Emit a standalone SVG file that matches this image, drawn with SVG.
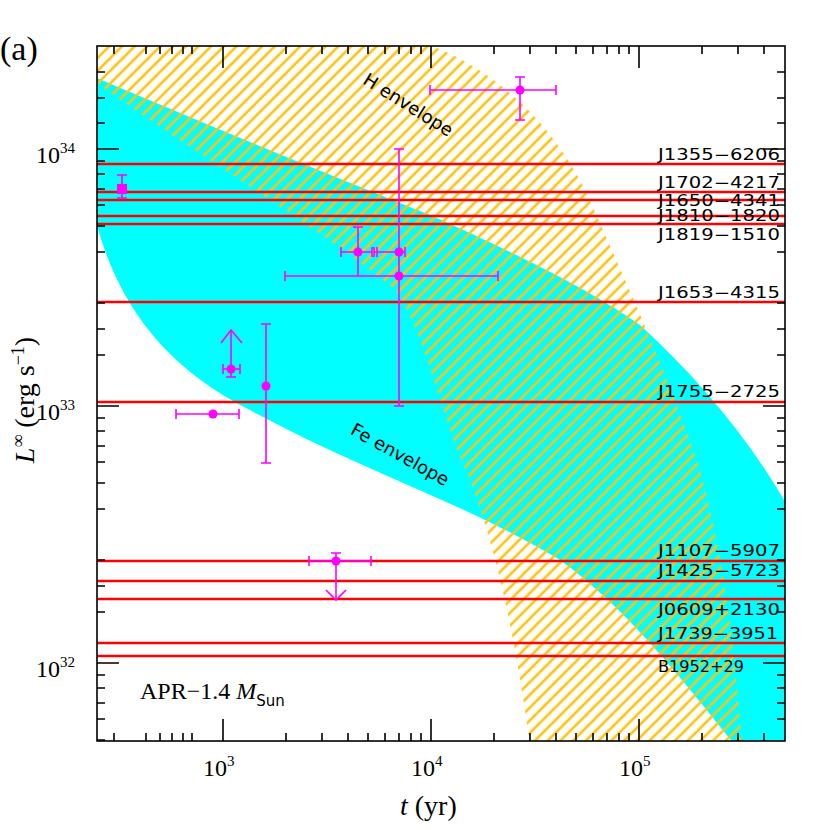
<svg xmlns="http://www.w3.org/2000/svg" width="830" height="830" viewBox="0 0 830 830">
<style>
.red{stroke:#ff0000;stroke-width:2.5}
.lbl{font-family:"DejaVu Sans",sans-serif;font-size:15px;text-anchor:end;fill:#000}
.tick{font-family:"Liberation Serif",serif;font-size:24px;fill:#000}
.m{stroke:#ff00ff;stroke-width:1.6;fill:none}
.dot{fill:#ff00ff}
.ax{stroke:#000;stroke-width:1.6;fill:none}
</style>
<defs>
<pattern id="h" width="9" height="9" patternUnits="userSpaceOnUse" patternTransform="rotate(45)">
<line x1="2" y1="0" x2="2" y2="9" stroke="#ffc20e" stroke-width="2.6"/>
</pattern>
<clipPath id="c"><rect x="97" y="46" width="688" height="695"/></clipPath>
</defs>
<rect width="830" height="830" fill="#fff"/>
<g id="regions" clip-path="url(#c)">
<path id="fe" fill="#00ffff" d="M97,78 C200,122 330,175 430,215 C520,255 590,290 640,325 C700,380 750,440 790,510 L790,745 L735,745 C690,690 630,610 560,560 C470,505 360,470 250,410 C170,370 120,310 97,225 Z"/>
<path id="henv" fill="url(#h)" d="M92,40 L415,40 C480,60 545,110 585,190 C630,290 670,380 700,470 C725,560 736,660 742,745 L530,745 C517,650 500,560 470,480 C438,410 425,330 395,290 C330,235 220,170 92,80 Z"/>
</g>
<g id="lines">
<line class="red" x1="97" y1="164" x2="785" y2="164"/>
<line class="red" x1="97" y1="192" x2="785" y2="192"/>
<line class="red" x1="97" y1="200" x2="785" y2="200"/>
<line class="red" x1="97" y1="216" x2="785" y2="216"/>
<line class="red" x1="97" y1="224" x2="785" y2="224"/>
<line class="red" x1="97" y1="302" x2="785" y2="302"/>
<line class="red" x1="97" y1="402" x2="785" y2="402"/>
<line class="red" x1="97" y1="561" x2="785" y2="561"/>
<line class="red" x1="97" y1="581" x2="785" y2="581"/>
<line class="red" x1="97" y1="599" x2="785" y2="599"/>
<line class="red" x1="97" y1="643" x2="785" y2="643"/>
<line class="red" x1="97" y1="656" x2="785" y2="656"/>
</g>
<g id="labels">
<text class="lbl" x="780" y="160" textLength="122" lengthAdjust="spacingAndGlyphs">J1355−6206</text>
<text class="lbl" x="780" y="188" textLength="122" lengthAdjust="spacingAndGlyphs">J1702−4217</text>
<text class="lbl" x="780" y="206" textLength="122" lengthAdjust="spacingAndGlyphs">J1650−4341</text>
<text class="lbl" x="780" y="221" textLength="122" lengthAdjust="spacingAndGlyphs">J1810−1820</text>
<text class="lbl" x="780" y="240" textLength="122" lengthAdjust="spacingAndGlyphs">J1819−1510</text>
<text class="lbl" x="780" y="298" textLength="122" lengthAdjust="spacingAndGlyphs">J1653−4315</text>
<text class="lbl" x="780" y="397" textLength="122" lengthAdjust="spacingAndGlyphs">J1755−2725</text>
<text class="lbl" x="780" y="556" textLength="122" lengthAdjust="spacingAndGlyphs">J1107−5907</text>
<text class="lbl" x="780" y="576" textLength="122" lengthAdjust="spacingAndGlyphs">J1425−5723</text>
<text class="lbl" x="780" y="615" textLength="122" lengthAdjust="spacingAndGlyphs">J0609+2130</text>
<text class="lbl" x="778" y="639" textLength="120" lengthAdjust="spacingAndGlyphs">J1739−3951</text>
<text class="lbl" x="744" y="672" textLength="86" lengthAdjust="spacingAndGlyphs">B1952+29</text>
<text x="405" y="110" transform="rotate(32 405 110)" font-family="DejaVu Sans,sans-serif" font-size="18" text-anchor="middle">H envelope</text>
<text x="397" y="460" transform="rotate(29 397 460)" font-family="DejaVu Sans,sans-serif" font-size="18" text-anchor="middle">Fe envelope</text>
<text x="140" y="699" font-family="Liberation Serif,serif" font-size="24">APR−1.4 <tspan font-style="italic">M</tspan><tspan font-family="DejaVu Sans,sans-serif" font-size="15" dy="7">Sun</tspan></text>
</g>
<g id="data">
<path class="m" d="M122,175V198M117,175h10M117,198h10"/><rect class="dot" x="117" y="184" width="10" height="10"/>
<path class="m" d="M341,252H372M341,247v10M372,247v10M358,227V276M353,227h10"/><circle class="dot" cx="358" cy="252" r="4.5"/>
<path class="m" d="M374,252H405M374,247v10M405,247v10M377,247v10"/><circle class="dot" cx="399" cy="252" r="4.5"/>
<path class="m" d="M399,149V406M394,149h10M394,406h10M285,276H498M285,271v10M498,271v10"/><circle class="dot" cx="399" cy="276" r="4.5"/>
<path class="m" d="M231,377V330M221,343L231,330L242,343M223,369H240M223,364v10M240,364v10M226,377h10"/><circle class="dot" cx="231" cy="369" r="4.5"/>
<path class="m" d="M266,324V463M261,324h10M261,463h10"/><circle class="dot" cx="266" cy="386" r="4.5"/>
<path class="m" d="M176,414H239M176,409v10M239,409v10"/><circle class="dot" cx="213" cy="414" r="4.5"/>
<path class="m" d="M309,561H371M309,556v10M371,556v10M336,553V600M331,553h10M326,590L336,600L346,590"/><circle class="dot" cx="336" cy="561" r="4.5"/>
<path class="m" d="M430,90H556M430,85v10M556,85v10M520,77V120M515,77h10M515,120h10"/><circle class="dot" cx="520" cy="90" r="4.5"/>
</g>
<g id="axes">
<rect class="ax" x="97" y="46" width="688" height="695"/>
<path class="ax" d="M223,741v-22M431,741v-22M639,741v-22M223,46v22M431,46v22M639,46v22
M97,149h22M97,406h22M97,663h22M785,149h-22M785,406h-22M785,663h-22
M114,741v-8M146,741v-8M160,741v-8M172,741v-8M183,741v-8M192,741v-8M286,741v-8M322,741v-8M348,741v-8M368,741v-8M385,741v-8M399,741v-8M411,741v-8M421,741v-8M494,741v-8M530,741v-8M556,741v-8M576,741v-8M593,741v-8M607,741v-8M619,741v-8M629,741v-8M702,741v-8M738,741v-8M764,741v-8
M114,46v8M146,46v8M160,46v8M172,46v8M183,46v8M192,46v8M286,46v8M322,46v8M348,46v8M368,46v8M385,46v8M399,46v8M411,46v8M421,46v8M494,46v8M530,46v8M556,46v8M576,46v8M593,46v8M607,46v8M619,46v8M629,46v8M702,46v8M738,46v8M764,46v8
M97,72h8M97,98h8M97,123h8M97,161h8M97,174h8M97,189h8M97,205h8M97,226h8M97,252h8M97,303h8M97,329h8M97,355h8M97,418h8M97,431h8M97,446h8M97,462h8M97,483h8M97,509h8M97,560h8M97,586h8M97,612h8M97,675h8M97,688h8M97,703h8M97,719h8M97,740h8
M785,72h-8M785,98h-8M785,123h-8M785,161h-8M785,174h-8M785,189h-8M785,205h-8M785,226h-8M785,252h-8M785,303h-8M785,329h-8M785,355h-8M785,418h-8M785,431h-8M785,446h-8M785,462h-8M785,483h-8M785,509h-8M785,560h-8M785,586h-8M785,612h-8M785,675h-8M785,688h-8M785,703h-8M785,719h-8"/>
<text class="tick" x="203" y="776">10<tspan font-size="15" dy="-10">3</tspan></text>
<text class="tick" x="411" y="776">10<tspan font-size="15" dy="-10">4</tspan></text>
<text class="tick" x="619" y="776">10<tspan font-size="15" dy="-10">5</tspan></text>
<text class="tick" x="36" y="163">10<tspan font-size="15" dy="-10">34</tspan></text>
<text class="tick" x="36" y="420">10<tspan font-size="15" dy="-10">33</tspan></text>
<text class="tick" x="36" y="677">10<tspan font-size="15" dy="-10">32</tspan></text>
<text x="0" y="60" font-family="Liberation Serif,serif" font-size="34">(a)</text>
<text x="400" y="815" font-family="Liberation Serif,serif" font-size="28"><tspan font-style="italic">t</tspan>  (yr)</text>
<text transform="translate(34 400) rotate(-90)" text-anchor="middle" font-family="Liberation Serif,serif" font-size="28"><tspan font-style="italic">L</tspan><tspan font-size="18" dy="-10">∞</tspan><tspan dy="10"> (erg s</tspan><tspan font-size="18" dy="-10">−1</tspan><tspan dy="10">)</tspan></text>
</g>
</svg>
